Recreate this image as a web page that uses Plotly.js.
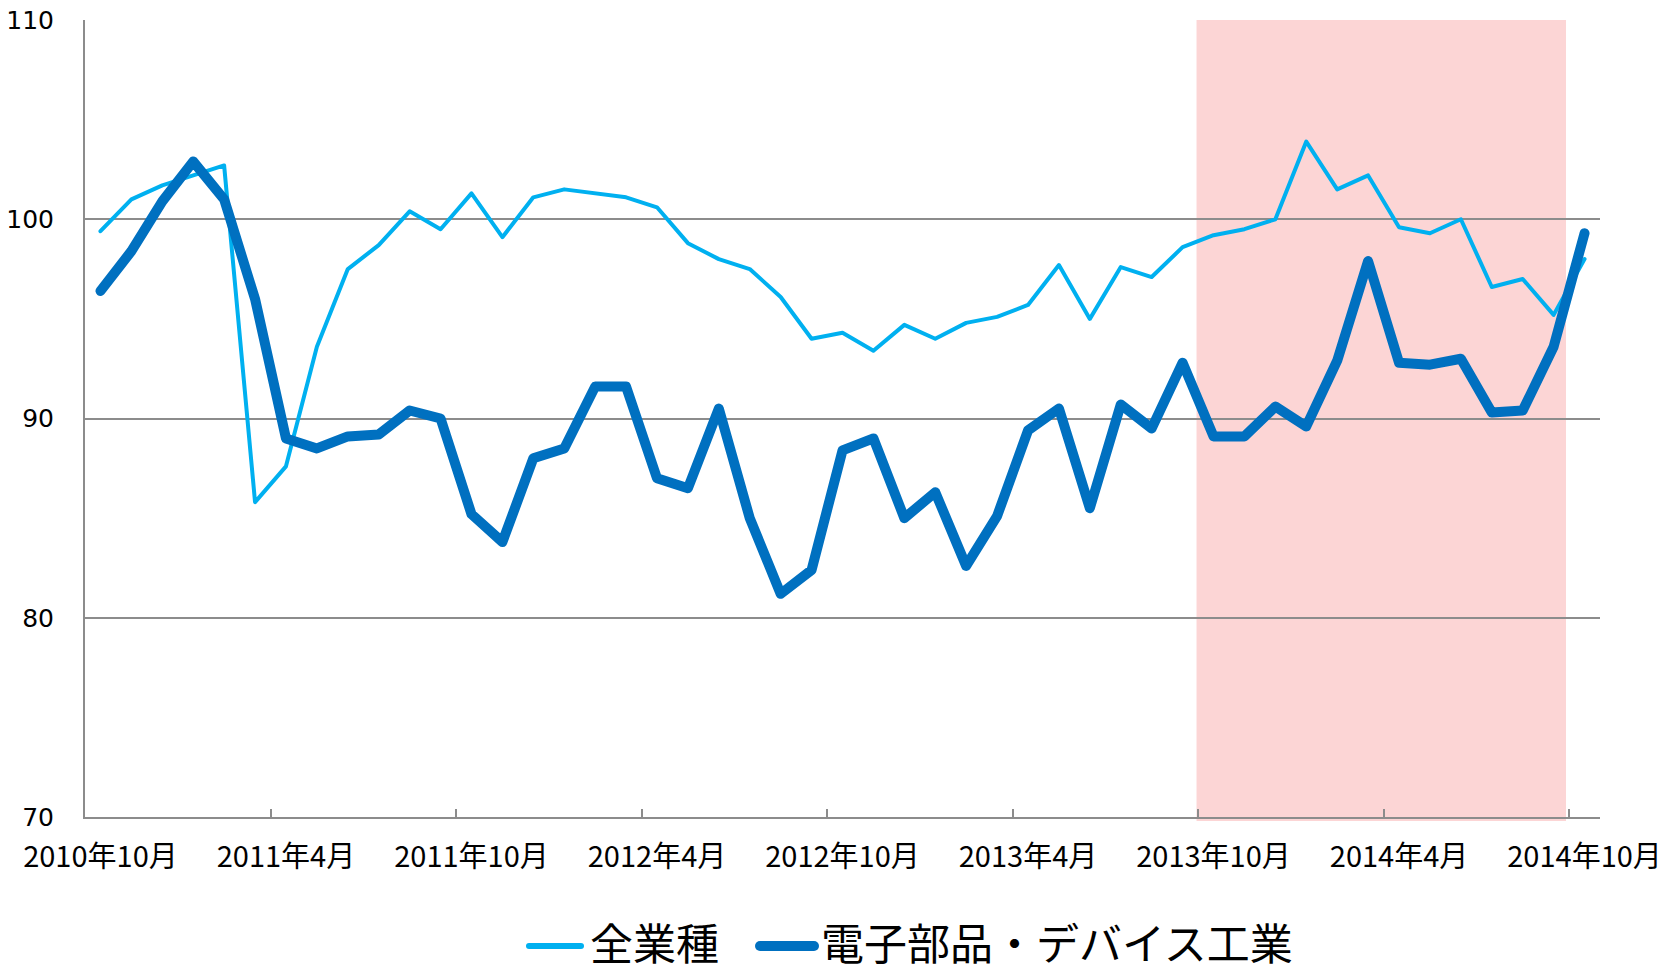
<!DOCTYPE html>
<html>
<head>
<meta charset="utf-8">
<script src="https://cdn.plot.ly/plotly-3.0.1.min.js"></script>
<style>
  html, body { margin: 0; padding: 0; background: #fff; }
  #chart { width: 1677px; height: 978px; }
  .scatterlayer .js-line, .shapelayer path { stroke-linejoin: round !important; stroke-linecap: round !important; }
</style>
</head>
<body>
<div id="chart"></div>
<script>
const months = [
  '2010年10月','2010年11月','2010年12月','2011年1月','2011年2月','2011年3月','2011年4月','2011年5月','2011年6月','2011年7月','2011年8月','2011年9月',
  '2011年10月','2011年11月','2011年12月','2012年1月','2012年2月','2012年3月','2012年4月','2012年5月','2012年6月','2012年7月','2012年8月','2012年9月',
  '2012年10月','2012年11月','2012年12月','2013年1月','2013年2月','2013年3月','2013年4月','2013年5月','2013年6月','2013年7月','2013年8月','2013年9月',
  '2013年10月','2013年11月','2013年12月','2014年1月','2014年2月','2014年3月','2014年4月','2014年5月','2014年6月','2014年7月','2014年8月','2014年9月',
  '2014年10月'
];
const allIndustries = [
  99.4, 101.0, 101.7, 102.2, 102.7, 85.8, 87.6, 93.6, 97.5, 98.7, 100.4, 99.5,
  101.3, 99.1, 101.1, 101.5, 101.3, 101.1, 100.6, 98.8, 98.0, 97.5, 96.1, 94.0,
  94.3, 93.4, 94.7, 94.0, 94.8, 95.1, 95.7, 97.7, 95.0, 97.6, 97.1, 98.6,
  99.2, 99.5, 100.0, 103.9, 101.5, 102.2, 99.6, 99.3, 100.0, 96.6, 97.0, 95.2,
  98.0
];
const electronics = [
  96.4, 98.4, 100.9, 102.9, 101.0, 96.0, 89.0, 88.5, 89.1, 89.2, 90.4, 90.0,
  85.2, 83.8, 88.0, 88.5, 91.6, 91.6, 87.0, 86.5, 90.5, 85.0, 81.2, 82.4,
  88.4, 89.0, 85.0, 86.3, 82.6, 85.1, 89.4, 90.5, 85.5, 90.7, 89.5, 92.8,
  89.1, 89.1, 90.6, 89.6, 92.9, 97.9, 92.8, 92.7, 93.0, 90.3, 90.4, 93.6,
  99.3
];
const tickLabels = ['2010年10月','2011年4月','2011年10月','2012年4月','2012年10月','2013年4月','2013年10月','2014年4月','2014年10月'];
const seriesNames = ['全業種', '電子部品・デバイス工業'];
const seriesColors = ['#00B0F0', '#0070C0'];
const shadeFrom = '2013年10月';
const shadeTo = '2014年9月';

const W = 1677, H = 978;
const M = { l: 85, r: 77, t: 20, b: 161 };
const plotW = W - M.l - M.r, plotH = H - M.t - M.b;
const px2x = p => (p - M.l) / plotW;
const px2y = p => (H - M.b - p) / plotH;

const traces = [
  { x: months, y: allIndustries, name: seriesNames[0], type: 'scatter', mode: 'lines',
    line: { color: seriesColors[0], width: 4 } },
  { x: months, y: electronics, name: seriesNames[1], type: 'scatter', mode: 'lines',
    line: { color: seriesColors[1], width: 10 } }
];

// manual legend (pixel positions of the legend row)
const legendY = 946;
const legendItems = [
  { line: [529, 581], textX: 588, width: 6 },
  { line: [760, 814], textX: 819, width: 10 }
];
const legendShapes = legendItems.map((it, i) => ({
  type: 'line', xref: 'paper', yref: 'paper',
  x0: px2x(it.line[0]), x1: px2x(it.line[1]), y0: px2y(legendY), y1: px2y(legendY),
  line: { color: seriesColors[i], width: it.width }
}));
const legendAnnotations = legendItems.map((it, i) => ({
  xref: 'paper', yref: 'paper', x: px2x(it.textX), y: px2y(legendY - 5),
  xanchor: 'left', yanchor: 'middle', showarrow: false, text: seriesNames[i],
  font: { family: 'Noto Sans CJK JP', size: 43, color: '#000' }
}));

const layout = {
  width: W, height: H,
  margin: M,
  paper_bgcolor: '#fff', plot_bgcolor: 'rgba(0,0,0,0)',
  showlegend: false,
  xaxis: {
    type: 'category', range: [-0.5, months.length - 0.5],
    tickmode: 'array', tickvals: tickLabels, ticktext: tickLabels, tickangle: 0,
    tickson: 'boundaries', ticks: 'inside', ticklen: 8, tickcolor: '#8c8c8c', tickwidth: 2,
    showline: true, linecolor: '#8c8c8c', linewidth: 2,
    showgrid: false, zeroline: false,
    tickfont: { family: 'Noto Sans CJK JP', size: 29, color: '#000' },
    ticklabelstandoff: 13, automargin: false
  },
  yaxis: {
    range: [70, 110], tickmode: 'array', tickvals: [70, 80, 90, 100, 110],
    showline: true, linecolor: '#8c8c8c', linewidth: 2,
    showgrid: true, gridcolor: '#8c8c8c', gridwidth: 2, zeroline: false,
    ticks: '', tickfont: { family: 'DejaVu Sans', size: 25, color: '#000' },
    ticklabelstandoff: 24, automargin: false
  },
  shapes: [{
    type: 'rect', layer: 'below', xref: 'x', yref: 'paper',
    x0: months.indexOf(shadeFrom) - 0.55, x1: months.indexOf(shadeTo) + 0.4,
    y0: -0.005, y1: 1,
    fillcolor: '#FCD5D5', line: { width: 0 }
  }].concat(legendShapes),
  annotations: legendAnnotations
};

Plotly.newPlot('chart', traces, layout, { displayModeBar: false, staticPlot: true });
</script>
</body>
</html>
